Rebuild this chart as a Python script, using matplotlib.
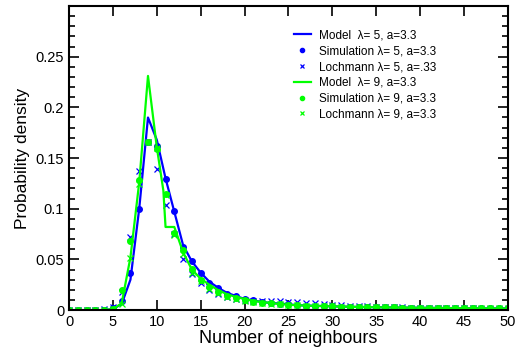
import matplotlib
matplotlib.use('Agg')
import matplotlib.pyplot as plt
from matplotlib.ticker import MultipleLocator
import numpy as np

plt.rcParams['font.family'] = ['Liberation Sans', 'DejaVu Sans']

# number of neighbours
k = list(range(0, 51))

tail_a = [0.0048, 0.0045, 0.0042, 0.0040, 0.0037, 0.0035, 0.0033, 0.0031, 0.0030, 0.0028,
          0.0027, 0.0026, 0.0025, 0.0024, 0.0023, 0.0022, 0.0021, 0.0020, 0.0020, 0.0019,
          0.0018, 0.0018, 0.0017, 0.0017, 0.0016]

# lambda = 5
model5 = [0, 0, 0, 0, 0, 0.001, 0.006, 0.030, 0.100, 0.190,
          0.168, 0.130, 0.097, 0.064, 0.048, 0.037, 0.028, 0.022, 0.017, 0.014,
          0.011, 0.0095, 0.008, 0.007, 0.0065, 0.0058] + tail_a
sim5 = [0, 0, 0, 0, 0, 0.002, 0.009, 0.037, 0.100, 0.166,
        0.162, 0.129, 0.098, 0.062, 0.048, 0.037, 0.027, 0.022, 0.016, 0.014,
        0.011, 0.0098, 0.008, 0.007, 0.0065, 0.006] + tail_a
loch5 = [0, 0, 0, 0, 0.001, 0.003, 0.018, 0.072, 0.137, 0.166,
         0.139, 0.104, 0.075, 0.050, 0.036, 0.027, 0.020, 0.016, 0.013, 0.011,
         0.010, 0.009, 0.0085, 0.0085, 0.0085, 0.0082,
         0.0078, 0.0072, 0.0066, 0.006, 0.0055, 0.005, 0.0045, 0.004, 0.0037,
         0.0034, 0.0031, 0.0029, 0.0027, 0.0025, 0.0023, 0.0021, 0.002, 0.0019, 0.0018,
         0.0017, 0.0016, 0.0015, 0.0014, 0.0013, 0.0012]

# lambda = 9
k_model9 = list(range(0, 11)) + [10.75] + list(range(11, 51))
model9 = [0, 0, 0, 0, 0, 0.001, 0.0066, 0.052, 0.126, 0.231,
          0.161, 0.118, 0.082, 0.082, 0.057, 0.040, 0.031, 0.025, 0.0197, 0.0157, 0.013,
          0.011, 0.009, 0.008, 0.007, 0.006, 0.0053] + tail_a
sim9 = [0, 0, 0, 0, 0, 0.001, 0.020, 0.068, 0.128, 0.166,
        0.159, 0.115, 0.076, 0.059, 0.041, 0.030, 0.023, 0.018, 0.014, 0.012,
        0.0098, 0.008, 0.0075, 0.0066, 0.006, 0.0052] + tail_a
loch9 = [0, 0, 0, 0, 0, 0.001, 0.006, 0.051, 0.124, 0.166,
         0.160, 0.114, 0.074, 0.055, 0.037, 0.029, 0.021, 0.017, 0.013, 0.011,
         0.009, 0.008, 0.007, 0.0063, 0.0057, 0.005] + tail_a

xticks = list(range(0, 51, 5))
yticks = [0, 0.05, 0.1, 0.15, 0.2, 0.25]
ytick_labels = ['0', '0.05', '0.1', '0.15', '0.2', '0.25']

blue = '#0000ff'
green = '#00ff00'

fig = plt.figure(figsize=(5.15, 3.52), dpi=100)
ax = fig.add_axes([0.134, 0.119, 0.852, 0.864])

ax.plot(k, model5, color=blue, lw=1.6, label='Model  \u03bb= 5, a=3.3')
ax.plot(k, sim5, 'o', color=blue, ms=4, label='Simulation \u03bb= 5, a=3.3')
ax.plot(k, loch5, 'x', color=blue, ms=4.5, mew=0.9, label='Lochmann \u03bb= 5, a=.33')
ax.plot(k_model9, model9, color=green, lw=1.6, label='Model  \u03bb= 9, a=3.3')
ax.plot(k, sim9, 'o', color=green, ms=4, label='Simulation \u03bb= 9, a=3.3')
ax.plot(k, loch9, 'x', color=green, ms=4.5, mew=0.9, label='Lochmann \u03bb= 9, a=3.3')

ax.set_xlim(0, 50)
ax.set_ylim(0, 0.3)
ax.set_xticks(xticks)
ax.set_yticks(yticks)
ax.set_yticklabels(ytick_labels)
ax.yaxis.set_minor_locator(MultipleLocator(0.01))
ax.tick_params(which='both', direction='in', top=True, right=True, labelsize=10.5, width=1.2)
ax.tick_params(which='major', length=7)
ax.tick_params(which='minor', length=4)
for s in ax.spines.values():
    s.set_linewidth(1.5)

ax.set_xlabel('Number of neighbours', fontsize=13, labelpad=1)
ax.set_ylabel('Probability density', fontsize=12.5, labelpad=4)

ax.legend(loc='upper left', bbox_to_anchor=(0.499, 0.942), frameon=False, fontsize=8.5,
          handlelength=1.45, labelspacing=0.32, handletextpad=0.65, borderpad=0,
          markerscale=0.75)

fig.savefig('out.png', dpi=100)
